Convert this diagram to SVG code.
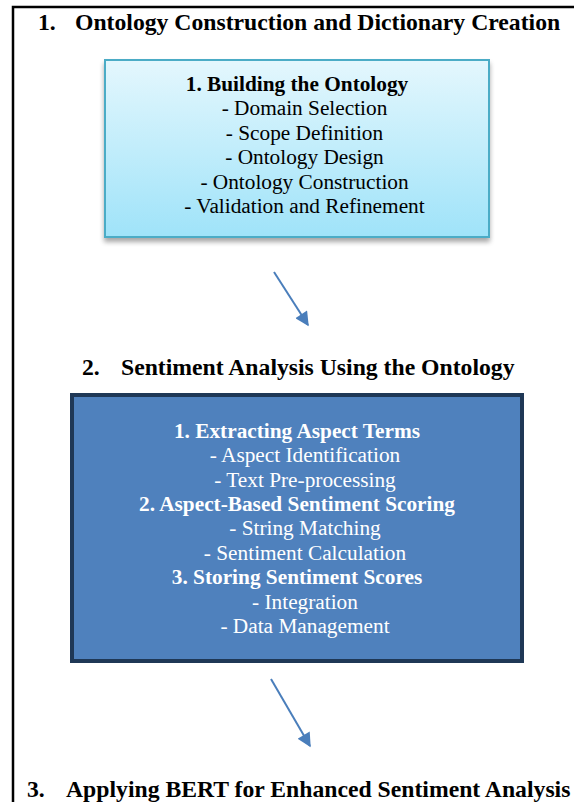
<svg xmlns="http://www.w3.org/2000/svg" width="574" height="802" viewBox="0 0 574 802">
<defs>
<linearGradient id="g1" x1="0" y1="0" x2="0" y2="1">
<stop offset="0" stop-color="#e4f7fd"/>
<stop offset="1" stop-color="#9fe3f9"/>
</linearGradient>
<filter id="sh" x="-10%" y="-10%" width="120%" height="130%">
<feGaussianBlur in="SourceAlpha" stdDeviation="2.5"/>
<feOffset dx="0" dy="4"/>
<feComponentTransfer><feFuncA type="linear" slope="0.35"/></feComponentTransfer>
<feMerge><feMergeNode/><feMergeNode in="SourceGraphic"/></feMerge>
</filter>
<marker id="ah" viewBox="0 0 10 10" refX="9" refY="5" markerWidth="7.5" markerHeight="7" orient="auto" markerUnits="strokeWidth">
<path d="M0,0 L10,5 L0,10 Z" fill="#4a7ebb"/>
</marker>
</defs>
<style>
.h{font-family:"Liberation Serif","Times New Roman",serif;font-weight:bold;font-size:23.7px;fill:#000}
.t{font-family:"Liberation Serif","Times New Roman",serif;font-size:21.3px;text-anchor:middle}
.b{font-weight:bold}
.k{fill:#000}
.w{fill:#fff}
.c{stroke:#4a7ebb;stroke-width:2;fill:none;marker-end:url(#ah)}
</style>
<rect width="574" height="802" fill="#fff"/>
<g id="frame">
<path d="M13,802 V7 H574" fill="none" stroke="#000" stroke-width="2.5"/>
</g>
<g id="heading1">
<text class="h" x="38" y="30">1.</text>
<text class="h" x="75" y="30">Ontology Construction and Dictionary Creation</text>
</g>
<g id="node1">
<rect x="105" y="60" width="384" height="177" fill="url(#g1)" stroke="#4bacc6" stroke-width="2" filter="url(#sh)"/>
<text class="t k b" x="297" y="91">1. Building the Ontology</text>
<text class="t k" x="304.5" y="115">- Domain Selection</text>
<text class="t k" x="304.5" y="140">- Scope Definition</text>
<text class="t k" x="304.5" y="164">- Ontology Design</text>
<text class="t k" x="304.5" y="189">- Ontology Construction</text>
<text class="t k" x="304.5" y="213">- Validation and Refinement</text>
</g>
<g id="heading2">
<text class="h" x="82" y="375">2.</text>
<text class="h" x="121" y="375">Sentiment Analysis Using the Ontology</text>
</g>
<g id="node2">
<rect x="72" y="395" width="450" height="266" fill="#4f81bd" stroke="#1f3856" stroke-width="4"/>
<text class="t w b" x="297" y="438">1. Extracting Aspect Terms</text>
<text class="t w" x="305" y="462">- Aspect Identification</text>
<text class="t w" x="305" y="487">- Text Pre-processing</text>
<text class="t w b" x="297" y="511">2. Aspect-Based Sentiment Scoring</text>
<text class="t w" x="305" y="535">- String Matching</text>
<text class="t w" x="305" y="560">- Sentiment Calculation</text>
<text class="t w b" x="297" y="584">3. Storing Sentiment Scores</text>
<text class="t w" x="305" y="609">- Integration</text>
<text class="t w" x="305" y="633">- Data Management</text>
</g>
<g id="heading3">
<text class="h" x="27" y="797">3.</text>
<text class="h" x="66" y="797">Applying BERT for Enhanced Sentiment Analysis</text>
</g>
<g id="connectors">
<line class="c" x1="274" y1="272" x2="308" y2="325"/>
<line class="c" x1="271" y1="679" x2="310" y2="746"/>
</g>
</svg>
